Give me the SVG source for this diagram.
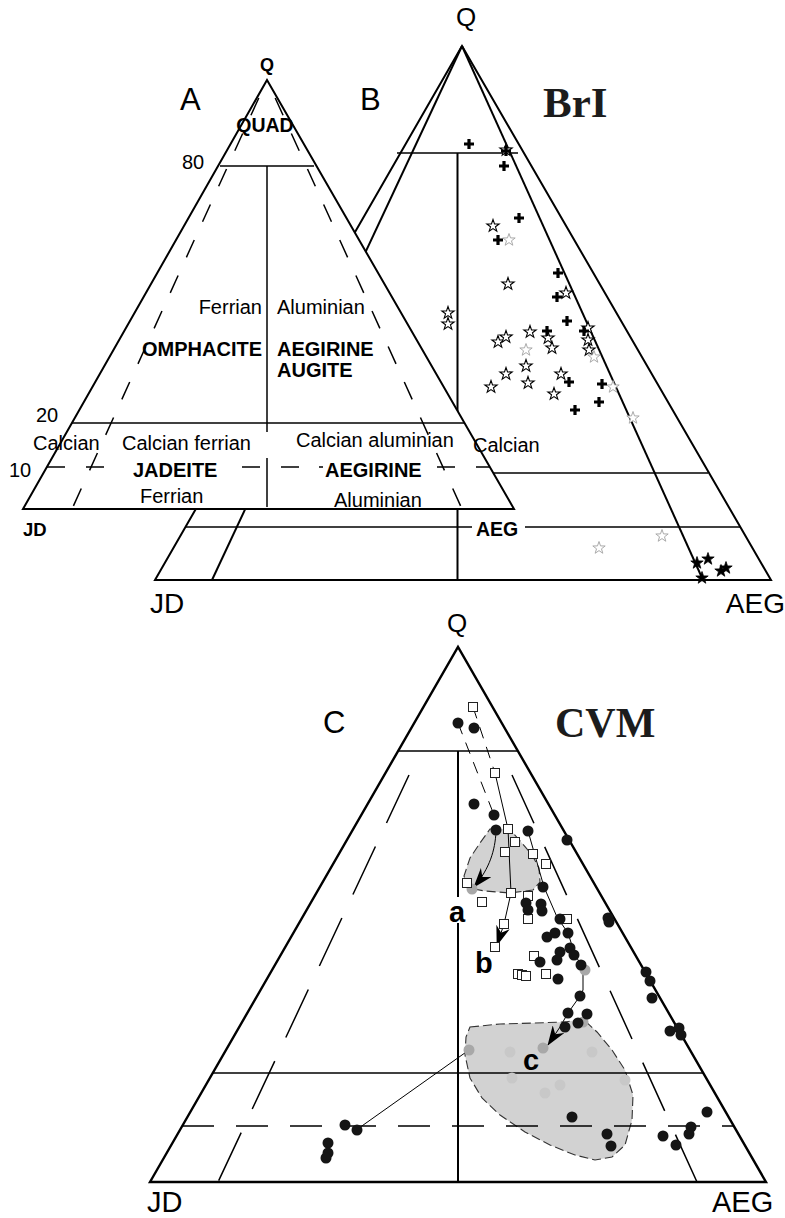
<svg xmlns="http://www.w3.org/2000/svg" width="785" height="1218" viewBox="0 0 785 1218">
<style>
text{font-family:"Liberation Sans",Arial,sans-serif;fill:#000}
.bd{font-weight:bold}
.sf{font-family:"Liberation Serif","Times New Roman",serif;font-weight:bold;fill:#1c1c1c}
.s2{stroke:#000;stroke-width:2;fill:none}
.s15{stroke:#000;stroke-width:1.5;fill:none}
.da{stroke-dasharray:19 20}
.dc{stroke-dasharray:53 26}
.dq{stroke-dasharray:32 22}
.tr{stroke:#000;stroke-width:1;fill:none}
.trd{stroke:#000;stroke-width:1;fill:none;stroke-dasharray:12 9}
.os{fill:#fff;stroke:#000;stroke-width:1.1}
.gs{fill:#fff;stroke:#aaa;stroke-width:1}
.fs{fill:#000;stroke:#000;stroke-width:0.8}
.pl{fill:#000}
.dt{fill:#151515}
.gd{fill:#a8a8a8}
.fd{fill:#c8c8c8}
.sq{fill:#fff;stroke:#222;stroke-width:1}
.reg{fill:#d2d2d2;stroke:#333;stroke-width:1.1;stroke-dasharray:9 4}
</style>
<defs>
<path id="star" d="M0,-6.5 L1.53,-2.1 L6.18,-2.01 L2.47,0.8 L3.82,5.26 L0,2.6 L-3.82,5.26 L-2.47,0.8 L-6.18,-2.01 L-1.53,-2.1 Z"/>
<path id="plus" d="M-1.6,-5 h3.2 v3.4 h3.4 v3.2 h-3.4 v3.4 h-3.2 v-3.4 h-3.4 v-3.2 h3.4 z"/>
<circle id="dot" cx="0" cy="0" r="5.5"/>
<rect id="sq" x="-4.5" y="-4.5" width="9" height="9"/>
<marker id="arr" viewBox="0 0 20 14" refX="19" refY="7" markerWidth="20" markerHeight="14" markerUnits="userSpaceOnUse" orient="auto">
<path d="M0,0 L20,7 L0,14 L6,7 Z" fill="#000"/>
</marker>
</defs>

<!-- Panel B (behind A) -->
<g id="panelB">
<polygon class="s2" points="155,580 462,46 771,580"/>
<line class="s2" x1="462" y1="46" x2="212" y2="580"/>
<line class="s2" x1="462" y1="46" x2="703" y2="580"/>
<line class="s15" x1="397" y1="153" x2="518" y2="153"/>
<line class="s2" x1="457.5" y1="153" x2="457.5" y2="580"/>
<line class="s15" x1="494" y1="473" x2="708" y2="473"/>
<line class="s15" x1="185" y1="527" x2="740" y2="527"/>
<text x="360" y="110" font-size="31">B</text>
<text x="466" y="26" font-size="26" text-anchor="middle">Q</text>
<text x="543" y="117" class="sf" font-size="43">BrI</text>
<text x="150" y="613" font-size="28">JD</text>
<text x="785" y="613" font-size="28" text-anchor="end">AEG</text>
</g>

<!-- Panel A (on top, white fill) -->
<g id="panelA">
<polygon points="23,509 267,80 514,509" fill="#fff" stroke="#000" stroke-width="2"/>
<line class="s15" x1="220" y1="166" x2="314" y2="166"/>
<line class="s15" x1="267" y1="166" x2="267" y2="432"/>
<line class="s15" x1="267" y1="458" x2="267" y2="507"/>
<line class="s15" x1="72" y1="423" x2="465" y2="423"/>
<line class="s15 da" x1="258.8" y1="98" x2="72" y2="509"/>
<line class="s15 da" x1="275.2" y1="98" x2="462" y2="509"/>
<path class="s15" d="M47,467 H65 M86,467 H104 M242,467 H260 M281,467 H299 M319,467 H323 M437,467 H455 M476,467 H490"/>
<text x="180" y="110" font-size="31">A</text>
<text x="267" y="71" font-size="18" class="bd" text-anchor="middle">Q</text>
<text x="265" y="132" font-size="19.5" class="bd" text-anchor="middle">QUAD</text>
<text x="182" y="169" font-size="20">80</text>
<text x="262" y="314" font-size="20" text-anchor="end">Ferrian</text>
<text x="277" y="314" font-size="20">Aluminian</text>
<text x="262" y="356" font-size="20" class="bd" text-anchor="end">OMPHACITE</text>
<text x="277" y="356" font-size="20" class="bd">AEGIRINE</text>
<text x="277" y="377" font-size="20" class="bd">AUGITE</text>
<text x="36" y="422" font-size="20">20</text>
<text x="33" y="450" font-size="20">Calcian</text>
<text x="122" y="450" font-size="20">Calcian ferrian</text>
<text x="296" y="447" font-size="20">Calcian aluminian</text>
<text x="473" y="452" font-size="20">Calcian</text>
<text x="9" y="477" font-size="20">10</text>
<text x="133" y="477" font-size="20" class="bd">JADEITE</text>
<text x="325" y="477" font-size="20" class="bd">AEGIRINE</text>
<text x="140" y="503" font-size="20">Ferrian</text>
<text x="334" y="507" font-size="20">Aluminian</text>
<text x="23" y="536" font-size="18.5" class="bd">JD</text>
<rect x="472" y="518" width="53" height="21" fill="#fff"/>
<text x="476" y="536" font-size="19.5" class="bd">AEG</text>
</g>

<!-- Panel B data -->
<g id="dataB">
<use href="#star" x="506" y="150" class="os"/>
<use href="#star" x="493" y="226" class="os"/>
<use href="#star" x="508" y="284" class="os"/>
<use href="#star" x="566" y="293" class="os"/>
<use href="#star" x="448" y="313" class="os"/>
<use href="#star" x="448" y="324" class="os"/>
<use href="#star" x="498" y="342" class="os"/>
<use href="#star" x="506" y="337" class="os"/>
<use href="#star" x="530" y="332" class="os"/>
<use href="#star" x="548" y="338" class="os"/>
<use href="#star" x="552" y="348" class="os"/>
<use href="#star" x="588" y="328" class="os"/>
<use href="#star" x="588" y="340" class="os"/>
<use href="#star" x="589" y="350" class="os"/>
<use href="#star" x="526" y="366" class="os"/>
<use href="#star" x="506" y="374" class="os"/>
<use href="#star" x="491" y="387" class="os"/>
<use href="#star" x="528" y="383" class="os"/>
<use href="#star" x="561" y="374" class="os"/>
<use href="#star" x="554" y="394" class="os"/>
<use href="#star" x="509" y="240" class="gs"/>
<use href="#star" x="526" y="350" class="gs"/>
<use href="#star" x="594" y="357" class="gs"/>
<use href="#star" x="613" y="387" class="gs"/>
<use href="#star" x="633" y="418" class="gs"/>
<use href="#star" x="599" y="548" class="gs"/>
<use href="#star" x="662" y="536" class="gs"/>
<use href="#plus" x="469" y="144" class="pl"/>
<use href="#plus" x="506" y="151" class="pl"/>
<use href="#plus" x="504" y="166" class="pl"/>
<use href="#plus" x="519" y="218" class="pl"/>
<use href="#plus" x="498" y="240" class="pl"/>
<use href="#plus" x="558" y="273" class="pl"/>
<use href="#plus" x="557" y="297" class="pl"/>
<use href="#plus" x="567" y="321" class="pl"/>
<use href="#plus" x="547" y="331" class="pl"/>
<use href="#plus" x="584" y="331" class="pl"/>
<use href="#plus" x="569" y="382" class="pl"/>
<use href="#plus" x="602" y="384" class="pl"/>
<use href="#plus" x="599" y="402" class="pl"/>
<use href="#plus" x="575" y="410" class="pl"/>
<use href="#star" x="697" y="563" class="fs"/>
<use href="#star" x="708" y="559" class="fs"/>
<use href="#star" x="721" y="571" class="fs"/>
<use href="#star" x="726" y="568" class="fs"/>
<use href="#star" x="702" y="578" class="fs"/>
</g>

<!-- Panel C -->
<g id="panelC">
<path id="regionA" class="reg" d="M490,829 L505,829 L514,834 L522,843 L532,855 L539,868 L540,882 L533,890 L510,893 L485,891 L468,888 L464,876 L470,858 L480,843 Z"/>
<path id="regionC" class="reg" d="M470,1027 L500,1024 L535,1023 L565,1022 L583,1019 L597,1032 L612,1050 L625,1070 L633,1095 L632,1120 L625,1145 L612,1157 L595,1160 L575,1155 L550,1145 L525,1132 L500,1115 L482,1098 L470,1078 L465,1055 L466,1037 Z"/>
<polygon points="150,1182 458,647 766,1182" fill="none" stroke="#000" stroke-width="2.4"/>
<line class="s15" x1="398" y1="751" x2="518" y2="751"/>
<line class="s2" x1="458" y1="751" x2="458" y2="897"/>
<line class="s2" x1="458" y1="923" x2="458" y2="1182"/>
<line class="s15" x1="213" y1="1073" x2="703" y2="1073"/>
<line class="s15 dq" x1="182" y1="1126" x2="734" y2="1126"/>
<line class="s15 dc" x1="409" y1="775" x2="218" y2="1182"/>
<line class="s15 dc" x1="512" y1="775" x2="697" y2="1182"/>
<text x="457" y="632" font-size="26" text-anchor="middle">Q</text>
<text x="323" y="733" font-size="31">C</text>
<text x="555" y="737" class="sf" font-size="42">CVM</text>
<text x="457" y="922" font-size="29" class="bd" text-anchor="middle">a</text>
<text x="475" y="973" font-size="29" class="bd">b</text>
<text x="523" y="1070" font-size="29" class="bd">c</text>
<text x="147" y="1212" font-size="29">JD</text>
<text x="712" y="1212" font-size="29">AEG</text>
</g>

<!-- trend connectors -->
<g id="connectors">
<line class="trd" x1="458" y1="723" x2="494" y2="815"/>
<line class="trd" x1="473" y1="707" x2="495" y2="773"/>
<path class="tr" d="M496,832 C495,850 490,868 474,887" marker-end="url(#arr)"/>
<path class="tr" d="M495,773 L508,829 L511,893 L504,924 L497,945" marker-end="url(#arr)"/>
<path class="tr" d="M528,831 L544,887 L557,917 L568,933 L575,955 L583,968 L583,990 L580,996 L568,1013 L560,1027 L548,1045" marker-end="url(#arr)"/>
<line class="tr" x1="359" y1="1128" x2="469" y2="1050"/>
</g>

<!-- Panel C data -->
<g id="dataC">
<use href="#dot" x="510" y="1052" class="fd"/>
<use href="#dot" x="512" y="1078" class="fd"/>
<use href="#dot" x="560" y="1085" class="fd"/>
<use href="#dot" x="545" y="1093" class="fd"/>
<use href="#dot" x="592" y="1052" class="fd"/>
<use href="#dot" x="625" y="1080" class="fd"/>
<use href="#dot" x="472" y="889" class="gd"/>
<use href="#dot" x="585" y="970" class="gd"/>
<use href="#dot" x="543" y="1048" class="gd"/>
<use href="#dot" x="469" y="1050" class="gd"/>
<use href="#dot" x="583" y="1022" class="gd"/>
<use href="#sq" x="473" y="707" class="sq"/>
<use href="#sq" x="495" y="773" class="sq"/>
<use href="#sq" x="508" y="829" class="sq"/>
<use href="#sq" x="515" y="842" class="sq"/>
<use href="#sq" x="505" y="852" class="sq"/>
<use href="#sq" x="533" y="854" class="sq"/>
<use href="#sq" x="546" y="864" class="sq"/>
<use href="#sq" x="467" y="883" class="sq"/>
<use href="#sq" x="511" y="893" class="sq"/>
<use href="#sq" x="528" y="896" class="sq"/>
<use href="#sq" x="482" y="902" class="sq"/>
<use href="#sq" x="528" y="919" class="sq"/>
<use href="#sq" x="567" y="919" class="sq"/>
<use href="#sq" x="504" y="924" class="sq"/>
<use href="#sq" x="495" y="947" class="sq"/>
<use href="#sq" x="534" y="956" class="sq"/>
<use href="#sq" x="518" y="974" class="sq"/>
<use href="#sq" x="522" y="975" class="sq"/>
<use href="#sq" x="526" y="976" class="sq"/>
<use href="#sq" x="546" y="974" class="sq"/>
<use href="#dot" x="458" y="723" class="dt"/>
<use href="#dot" x="474" y="728" class="dt"/>
<use href="#dot" x="474" y="804" class="dt"/>
<use href="#dot" x="494" y="815" class="dt"/>
<use href="#dot" x="496" y="830" class="dt"/>
<use href="#dot" x="528" y="831" class="dt"/>
<use href="#dot" x="567" y="840" class="dt"/>
<use href="#dot" x="543" y="887" class="dt"/>
<use href="#dot" x="526" y="903" class="dt"/>
<use href="#dot" x="528" y="910" class="dt"/>
<use href="#dot" x="541" y="904" class="dt"/>
<use href="#dot" x="542" y="911" class="dt"/>
<use href="#dot" x="560" y="919" class="dt"/>
<use href="#dot" x="608" y="918" class="dt"/>
<use href="#dot" x="609" y="922" class="dt"/>
<use href="#dot" x="568" y="933" class="dt"/>
<use href="#dot" x="547" y="937" class="dt"/>
<use href="#dot" x="555" y="933" class="dt"/>
<use href="#dot" x="560" y="952" class="dt"/>
<use href="#dot" x="570" y="948" class="dt"/>
<use href="#dot" x="574" y="955" class="dt"/>
<use href="#dot" x="540" y="962" class="dt"/>
<use href="#dot" x="557" y="960" class="dt"/>
<use href="#dot" x="581" y="965" class="dt"/>
<use href="#dot" x="558" y="979" class="dt"/>
<use href="#dot" x="580" y="996" class="dt"/>
<use href="#dot" x="568" y="1013" class="dt"/>
<use href="#dot" x="587" y="1014" class="dt"/>
<use href="#dot" x="565" y="1027" class="dt"/>
<use href="#dot" x="578" y="1023" class="dt"/>
<use href="#dot" x="646" y="972" class="dt"/>
<use href="#dot" x="650" y="981" class="dt"/>
<use href="#dot" x="652" y="998" class="dt"/>
<use href="#dot" x="670" y="1031" class="dt"/>
<use href="#dot" x="679" y="1028" class="dt"/>
<use href="#dot" x="681" y="1035" class="dt"/>
<use href="#dot" x="572" y="1117" class="dt"/>
<use href="#dot" x="607" y="1134" class="dt"/>
<use href="#dot" x="611" y="1146" class="dt"/>
<use href="#dot" x="663" y="1136" class="dt"/>
<use href="#dot" x="676" y="1145" class="dt"/>
<use href="#dot" x="691" y="1127" class="dt"/>
<use href="#dot" x="689" y="1134" class="dt"/>
<use href="#dot" x="707" y="1112" class="dt"/>
<use href="#dot" x="345" y="1125" class="dt"/>
<use href="#dot" x="357" y="1130" class="dt"/>
<use href="#dot" x="328" y="1143" class="dt"/>
<use href="#dot" x="328" y="1153" class="dt"/>
<use href="#dot" x="326" y="1158" class="dt"/>
</g>
</svg>
